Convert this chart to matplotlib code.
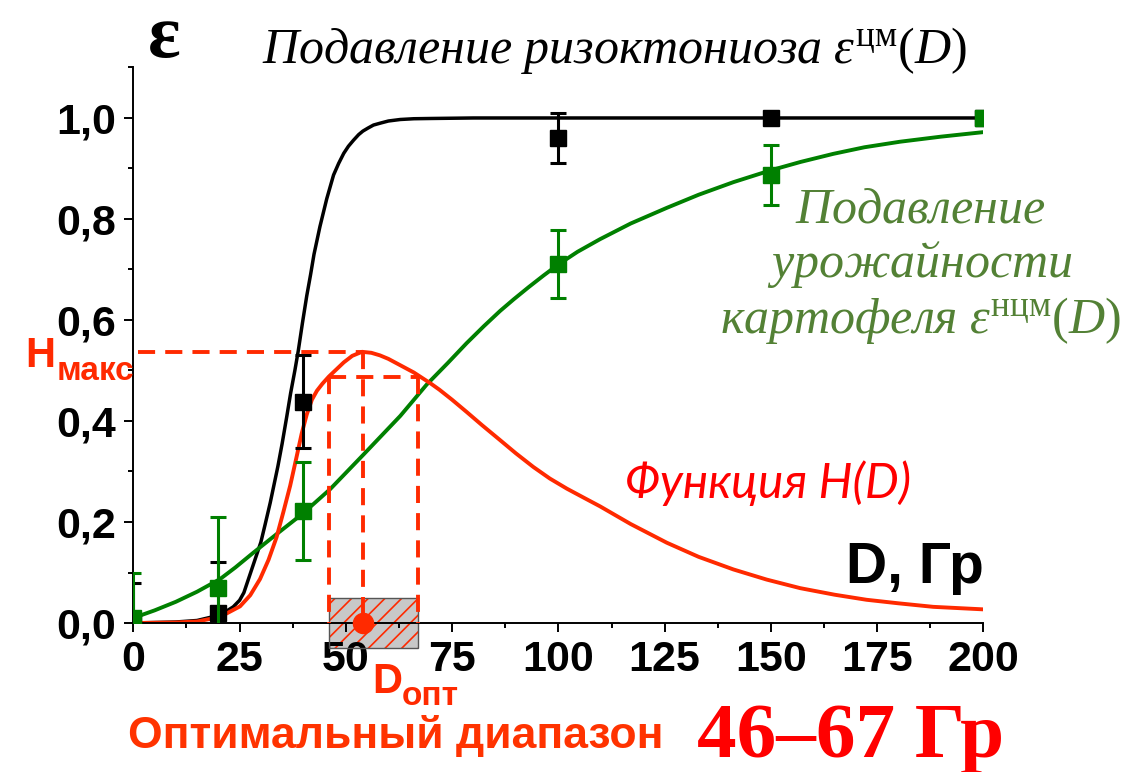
import matplotlib
matplotlib.use('Agg')
import matplotlib.pyplot as plt
from matplotlib.ticker import FixedLocator, FuncFormatter
from matplotlib.patches import Rectangle

plt.rcParams['font.family'] = ['Liberation Sans', 'DejaVu Sans']
plt.rcParams['mathtext.fontset'] = 'custom'
plt.rcParams['mathtext.rm'] = 'Liberation Serif'
plt.rcParams['mathtext.it'] = 'Liberation Serif:italic'
plt.rcParams['mathtext.bf'] = 'Liberation Serif:bold'
plt.rcParams['hatch.linewidth'] = 1.2

# experimental points, dose in Gy
dose_pts = [0, 20, 40, 100, 150, 200]
cm_pts = [0.0, 0.02, 0.438, 0.96, 1.0, 1.0]
cm_err = [0.08, 0.10, 0.092, 0.05, 0.0, 0.0]
ncm_pts = [0.01, 0.07, 0.222, 0.711, 0.887, 1.0]
ncm_err = [0.09, 0.14, 0.097, 0.067, 0.06, 0.0]

# fitted curves
cm_dose = [0, 10, 15, 20, 22, 23.5, 25, 26, 27, 28.2, 29, 30, 31, 32.2, 33,
           34, 35, 36.1, 37, 38, 38.8, 39.8, 40.8, 41.7, 42.5, 43.9, 45.5,
           47.1, 48.3, 49.5, 50.6, 51.8, 53, 54, 55.2, 56.5, 58.2, 60, 62.8,
           66, 70, 80, 200]
cm_fit = [0.0, 0.002, 0.005, 0.015, 0.024, 0.032, 0.045, 0.06, 0.085, 0.115,
          0.135, 0.16, 0.195, 0.238, 0.27, 0.31, 0.355, 0.409, 0.455, 0.5,
          0.539, 0.595, 0.648, 0.69, 0.73, 0.785, 0.84, 0.887, 0.91, 0.93,
          0.944, 0.956, 0.967, 0.974, 0.98, 0.986, 0.99, 0.994, 0.997, 0.9985,
          0.999, 1.0, 1.0]

ncm_dose = [0, 5, 10, 15, 20.4, 24, 28.2, 33.7, 39.9, 46.3, 54.2, 62.8, 69,
            74, 78.4, 82.5, 86.3, 89.5, 93, 96.5, 100, 104.5, 109.8, 117,
            125.5, 133, 141.2, 149.8, 157, 164.7, 172, 180.4, 190, 200]
ncm_fit = [0.01, 0.025, 0.042, 0.062, 0.087, 0.11, 0.139, 0.176, 0.217, 0.265,
           0.334, 0.41, 0.472, 0.515, 0.554, 0.588, 0.618, 0.641, 0.665, 0.688,
           0.71, 0.735, 0.76, 0.791, 0.822, 0.848, 0.873, 0.896, 0.913, 0.929,
           0.942, 0.953, 0.963, 0.972]

h_dose = [0, 10, 15, 20.4, 25.1, 27.5, 29.8, 31.8, 33.7, 35.3, 36.9, 38.3,
          39.6, 40.8, 42, 43.2, 44.5, 46, 47.5, 49.5, 51.5, 53.8, 56, 58, 60,
          62, 64, 66, 68, 70, 72, 75, 78.4, 82, 86.3, 90, 94.1, 98, 102, 106,
          109.8, 117, 125.5, 133, 141.2, 149, 156.9, 165, 172.5, 180, 188.2,
          200]
h_fit = [0.0, 0.001, 0.003, 0.012, 0.033, 0.055, 0.087, 0.125, 0.17, 0.22,
         0.272, 0.325, 0.375, 0.413, 0.442, 0.46, 0.474, 0.488, 0.5, 0.516,
         0.529, 0.537, 0.535, 0.53, 0.523, 0.514, 0.505, 0.496, 0.485, 0.474,
         0.462, 0.442, 0.418, 0.392, 0.362, 0.336, 0.309, 0.286, 0.266, 0.248,
         0.231, 0.196, 0.159, 0.131, 0.106, 0.086, 0.069, 0.056, 0.046, 0.039,
         0.032, 0.027]

D_opt = 54
H_max = 0.537
H_level = 0.487
D_lo, D_hi = 46, 67

x_ticks = [0, 25, 50, 75, 100, 125, 150, 175, 200]
y_ticks = [0.0, 0.2, 0.4, 0.6, 0.8, 1.0]

RED = '#ff2a00'
GREEN = '#008000'
TXT_GREEN = '#538135'

fig = plt.figure(figsize=(11.34, 7.72), dpi=100)
ax = fig.add_axes([0.1176, 0.193, 0.7496, 0.7196])
ax.set_xlim(0, 200)
ax.set_ylim(0, 1.1)

for side in ['top', 'right']:
    ax.spines[side].set_visible(False)
for side in ['left', 'bottom']:
    ax.spines[side].set_linewidth(1.4)

ax.set_xticks(x_ticks)
ax.set_yticks(y_ticks)
ax.xaxis.set_minor_locator(FixedLocator([12.5 + 25 * i for i in range(8)]))
ax.yaxis.set_minor_locator(FixedLocator([0.1, 0.3, 0.5, 0.7, 0.9, 1.1]))
ax.yaxis.set_major_formatter(FuncFormatter(lambda v, p: f'{v:.1f}'.replace('.', ',')))
ax.tick_params(which='major', direction='out', length=6.5, width=1.4,
               labelsize=31, pad=6)
ax.tick_params(which='minor', direction='out', length=3.5, width=1.4)
for lbl in ax.get_xticklabels() + ax.get_yticklabels():
    lbl.set_fontweight('bold')

# optimal range box on the dose axis
ax.add_patch(Rectangle((D_lo, -0.05), D_hi - D_lo, 0.1, facecolor='#c8c8c8',
                       edgecolor=RED, linewidth=0, hatch='//', clip_on=False,
                       zorder=1.5))
ax.add_patch(Rectangle((D_lo, -0.05), D_hi - D_lo, 0.1, facecolor='none',
                       edgecolor='#555555', linewidth=1.0, clip_on=False,
                       zorder=1.6))

# curves
ax.plot(cm_dose, cm_fit, color='black', lw=2.5, zorder=2)
ax.plot(ncm_dose, ncm_fit, color=GREEN, lw=2.8, zorder=2.1)
ax.plot(h_dose, h_fit, color=RED, lw=2.8, zorder=2.3)

ax.errorbar(dose_pts, cm_pts, yerr=cm_err, fmt='s', color='black', ms=12,
            elinewidth=2.2, capsize=6, capthick=2.2, zorder=3)
ax.errorbar(dose_pts, ncm_pts, yerr=ncm_err, fmt='s', color=GREEN, ms=12,
            elinewidth=2.2, capsize=6, capthick=2.2, zorder=3.1)

# dashed guides for the maximum of H(D) and the optimal range
dash = dict(color=RED, lw=2.8, dashes=(4.4, 2.6), zorder=2.6)
ax.plot([1, D_opt], [H_max, H_max], **dash)
ax.plot([D_opt, D_opt], [H_max, 0], **dash)
ax.plot([D_lo, D_hi], [H_level, H_level], **dash)
ax.plot([D_lo, D_lo], [H_level, 0], **dash)
ax.plot([D_hi, D_hi], [H_level, 0], **dash)

ax.plot([D_opt], [0], 'o', color=RED, ms=14.5, clip_on=False, zorder=4)

# labels
ax.text(7, 1.121, r'$\mathbf{ε}$', fontsize=55, ha='center', va='baseline')
ax.text(30.3, 1.109, r'$\mathit{Подавление\ ризоктониоза}\ \varepsilon^{\mathrm{цм}}(D)$',
        fontsize=36, ha='left', va='baseline')
ax.text(185.1, 0.794, r'$\mathit{Подавление}$', fontsize=36, color=TXT_GREEN,
        ha='center', va='baseline')
ax.text(185.1, 0.685, r'$\mathit{урожайности}$', fontsize=36, color=TXT_GREEN,
        ha='center', va='baseline')
ax.text(185.1, 0.574, r'$\mathit{картофеля}\ \varepsilon^{\mathrm{нцм}}(D)$',
        fontsize=36, color=TXT_GREEN, ha='center', va='baseline')
ax.text(115.7, 0.2475, 'Функция H(D)', fontsize=34.5, family='Lato',
        style='italic', color='#ff0000', ha='left', va='baseline')
ax.text(200, 0.079, 'D, Гр', fontsize=41, fontweight='bold', ha='right',
        va='baseline')

ax.text(-25.5, 0.507, 'H', fontsize=30, fontweight='bold', color=RED,
        ha='left', va='baseline')
ax.text(-17.96, 0.481, 'макс', fontsize=24, fontweight='bold', color=RED,
        ha='left', va='baseline')
ax.text(56.2, -0.139, 'D', fontsize=30, fontweight='bold', color=RED,
        ha='left', va='baseline')
ax.text(63.2, -0.162, 'опт', fontsize=24, fontweight='bold', color=RED,
        ha='left', va='baseline')

ax.text(-1.25, -0.2475, 'Оптимальный диапазон', fontsize=32, fontweight='bold',
        color='#ff3300', ha='left', va='baseline')
ax.text(132.6, -0.265, f'{D_lo}–{D_hi} Гр', fontsize=57, fontweight='bold',
        family='Liberation Serif', color='#ff0000', ha='left', va='baseline')

fig.savefig('out.png', dpi=100)
